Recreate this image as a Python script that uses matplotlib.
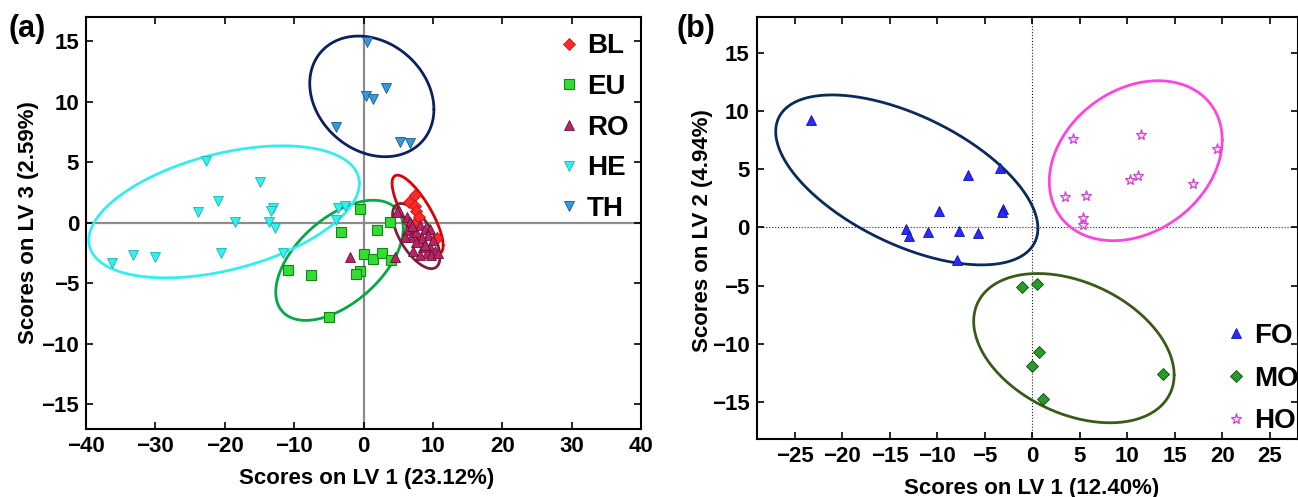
import matplotlib
matplotlib.use('Agg')
import matplotlib.pyplot as plt
import numpy as np

plt.rcParams['font.family'] = ['Liberation Sans', 'DejaVu Sans']
plt.rcParams['font.weight'] = 'bold'

# ---- panel (a) scores, LV1 vs LV3 ----
bl_x = [6.5, 7.4, 7.4, 7.6, 6.4, 7.3, 8.0, 10.6]
bl_y = [1.7, 2.3, 1.4, 1.0, 0.1, -0.1, 0.5, -1.3]

eu_x = [-0.5, 3.8, 1.9, -3.3, 0.0, 1.3, 2.6, 3.9, -0.5, -1.1, -10.9, -7.6, -5.0]
eu_y = [1.1, 0.1, -0.6, -0.8, -2.6, -3.0, -2.5, -3.1, -4.0, -4.2, -3.9, -4.3, -7.8]

ro_x = [5.1, 6.2, 6.7, 6.2, 6.9, 7.6, 8.1, 8.8, 9.6, 9.3, 8.4, 7.6, 8.6, 9.6, 10.3,
        9.1, 9.8, 10.8, 7.2, 8.1, 6.0, 10.0, 4.8, 4.5, -2.0, 7.0, 8.9]
ro_y = [1.0, 0.5, 0.1, -0.6, -1.2, -0.8, -0.2, -0.5, -0.5, -1.0, -1.3, -1.6, -2.0, -2.0, -2.3,
        -2.5, -2.7, -2.5, -2.3, -2.7, -1.2, -1.4, 0.9, -2.8, -2.8, -0.3, -1.8]

he_x = [-36.3, -33.2, -30.1, -22.7, -23.8, -21.0, -20.5, -18.5, -14.9, -13.0, -13.3,
        -13.6, -12.7, -11.6, -3.7, -2.6, -3.9]
he_y = [-3.3, -2.7, -2.8, 5.1, 0.9, 1.8, -2.5, 0.1, 3.4, 1.2, 1.0,
        0.1, -0.4, -2.5, 1.2, 1.4, 0.2]

th_x = [0.5, 0.3, 1.4, 3.3, -3.9, 5.3, 6.7]
th_y = [14.9, 10.5, 10.2, 11.1, 7.9, 6.7, 6.6]

# ellipses: centre x, centre y, half extent x, half extent y, correlation
ell_a = {
    'BL': (7.8, 0.69, 3.68, 3.24, -0.79),
    'EU': (-3.46, -3.1, 9.19, 4.96, 0.53),
    'RO': (7.6, -1.1, 3.42, 2.69, -0.64),
    'HE': (-20.1, 0.9, 19.5, 5.45, 0.43),
    'TH': (1.2, 10.43, 8.95, 4.98, -0.215),
}

# ---- panel (b) scores, LV1 vs LV2 ----
fo_x = [-23.3, -13.3, -13.0, -11.0, -9.8, -7.7, -7.9, -6.8, -5.7, -3.4, -3.1, -3.2]
fo_y = [9.2, -0.1, -0.7, -0.4, 1.4, -0.3, -2.8, 4.5, -0.5, 5.1, 1.6, 1.3]

mo_x = [-1.1, 0.5, 0.7, 0.0, 13.8, 1.1]
mo_y = [-5.1, -4.85, -10.7, -11.9, -12.6, -14.7]

ho_x = [4.3, 11.5, 19.5, 11.1, 10.3, 16.9, 5.7, 3.4, 5.3, 5.3]
ho_y = [7.6, 7.9, 6.7, 4.4, 4.1, 3.7, 2.7, 2.6, 0.8, 0.2]

ell_b = {
    'FO': (-13.2, 4.08, 13.8, 7.3, -0.57),
    'MO': (4.39, -10.37, 10.55, 6.41, -0.36),
    'HO': (10.9, 5.73, 9.1, 6.87, 0.26),
}


def conf_ellipse(ax, par, color):
    cx, cy, rx, ry, rho = par
    t = np.linspace(0, 2 * np.pi, 400)
    phi = np.arccos(rho)
    ax.plot(cx + rx * np.cos(t), cy + ry * np.cos(t - phi), color=color, lw=2, zorder=3,
            solid_capstyle='round', solid_joinstyle='round')


def style(ax):
    for s in ax.spines.values():
        s.set_linewidth(1.5)
    ax.tick_params(direction='in', top=True, right=True, length=5, width=1.2,
                   labelsize=16, pad=5)


fig = plt.figure(figsize=(12.98, 4.97), dpi=100)

# (a)
ax1 = fig.add_axes([86 / 1298, 1 - 428.7 / 497, 555 / 1298, 411.9 / 497])
ax1.axhline(0, color='#8c8c8c', lw=1.6, zorder=1)
ax1.axvline(0, color='#8c8c8c', lw=1.6, zorder=1)
ax1.plot(bl_x, bl_y, 'D', ms=6, mfc='#ff2a2a', mec='#cc1111', mew=0.6, label='BL', zorder=4)
ax1.plot(eu_x, eu_y, 's', ms=7, mfc='#33dd33', mec='#118811', mew=0.8, label='EU', zorder=4)
ax1.plot(ro_x, ro_y, '^', ms=7.5, mfc='#b8246a', mec='#6a1030', mew=0.6, label='RO', zorder=4)
ax1.plot(he_x, he_y, 'v', ms=7.5, mfc='#33f0f0', mec='#22b0b0', mew=0.6, label='HE', zorder=4)
ax1.plot(th_x, th_y, 'v', ms=7.5, mfc='#3399dd', mec='#1a5a8a', mew=0.6, label='TH', zorder=4)
conf_ellipse(ax1, ell_a['BL'], '#dd0000')
conf_ellipse(ax1, ell_a['EU'], '#00aa44')
conf_ellipse(ax1, ell_a['RO'], '#7a2038')
conf_ellipse(ax1, ell_a['HE'], '#33eeee')
conf_ellipse(ax1, ell_a['TH'], '#0a2060')
ax1.set_xlim(-40, 40)
ax1.set_ylim(-17, 17)
ax1.set_xticks(np.arange(-40, 41, 10))
ax1.set_yticks(np.arange(-15, 16, 5))
style(ax1)
ax1.set_xlabel('Scores on LV 1 (23.12%)', fontsize=16, fontweight='bold')
ax1.set_ylabel('Scores on LV 3 (2.59%)', fontsize=16, fontweight='bold')
ax1.xaxis.set_label_coords(0.506, -0.095)
ax1.yaxis.set_label_coords(-0.084, 0.5)
ax1.legend(loc='upper left', bbox_to_anchor=(0.855, 0.96), frameon=False,
           fontsize=20, handlelength=0.6, handletextpad=0.35, labelspacing=0.53,
           borderpad=0, borderaxespad=0)

# (b)
ax2 = fig.add_axes([756.7 / 1298, 1 - 439.3 / 497, 541.5 / 1298, 422.6 / 497])
ax2.axhline(0, color='#222222', lw=0.8, ls=':', zorder=1)
ax2.axvline(0, color='#222222', lw=0.8, ls=':', zorder=1)
ax2.plot(fo_x, fo_y, '^', ms=7.5, mfc='#2a2aff', mec='#1010aa', mew=0.6, label='FO', zorder=4)
ax2.plot(mo_x, mo_y, 'D', ms=6.5, mfc='#2a9a2a', mec='#0a4a0a', mew=0.6, label='MO', zorder=4)
ax2.plot(ho_x, ho_y, '*', ms=8, mfc='#ffd8ff', mec='#cc44cc', mew=0.9, label='HO', zorder=4)
conf_ellipse(ax2, ell_b['FO'], '#0a2a5a')
conf_ellipse(ax2, ell_b['MO'], '#3a5a1a')
conf_ellipse(ax2, ell_b['HO'], '#ff44dd')
ax2.set_xlim(-29, 28)
ax2.set_ylim(-18.2, 18.1)
ax2.set_xticks(np.arange(-25, 26, 5))
ax2.set_yticks(np.arange(-15, 16, 5))
style(ax2)
ax2.set_xlabel('Scores on LV 1 (12.40%)', fontsize=16, fontweight='bold')
ax2.set_ylabel('Scores on LV 2 (4.94%)', fontsize=16, fontweight='bold')
ax2.xaxis.set_label_coords(0.507, -0.092)
ax2.yaxis.set_label_coords(-0.081, 0.495)
ax2.legend(loc='upper left', bbox_to_anchor=(0.87, 0.275), frameon=False,
           fontsize=20, handlelength=0.6, handletextpad=0.35, labelspacing=0.6,
           borderpad=0, borderaxespad=0)

fig.text(8 / 1298, 1 - 14 / 497, '(a)', fontsize=22, fontweight='bold', va='top')
fig.text(676 / 1298, 1 - 14 / 497, '(b)', fontsize=22, fontweight='bold', va='top')

fig.savefig('out.png', dpi=100)
